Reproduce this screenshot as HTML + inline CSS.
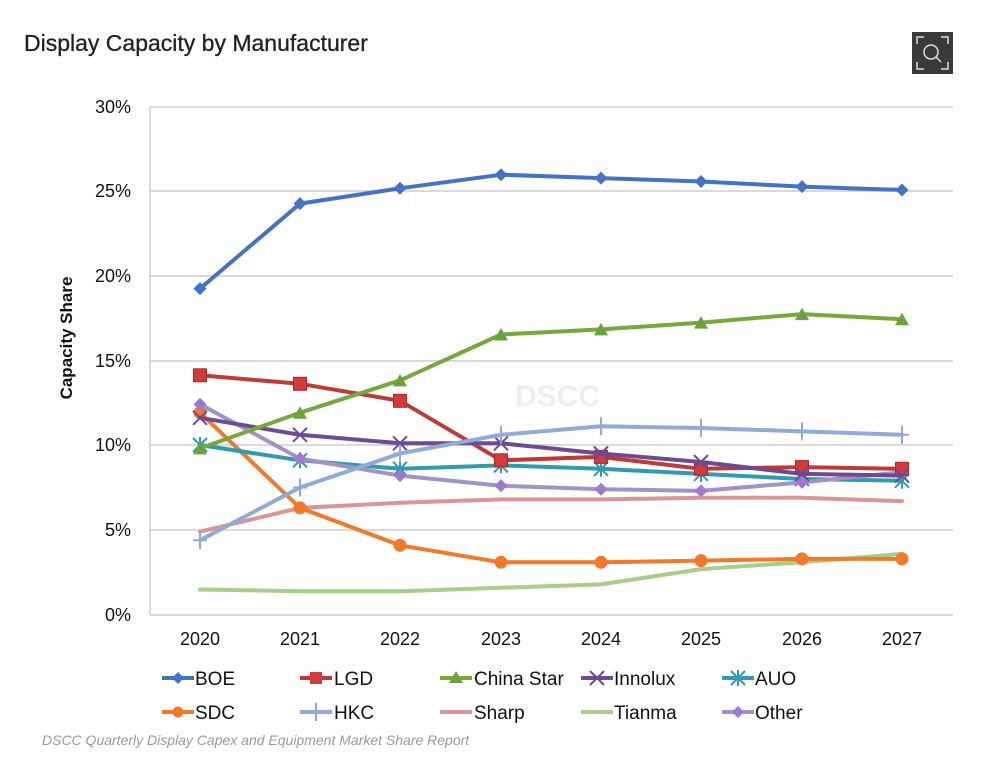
<!DOCTYPE html>
<html><head><meta charset="utf-8"><style>
body{margin:0;background:#fff;width:987px;height:762px;overflow:hidden;font-family:"Liberation Sans",sans-serif}
</style></head><body>
<svg width="987" height="762" xmlns="http://www.w3.org/2000/svg" font-family="Liberation Sans, sans-serif">
<defs>
<marker id="dia" markerUnits="userSpaceOnUse" markerWidth="16" markerHeight="16" refX="8" refY="8"><path d="M8 1.5L14.5 8L8 14.5L1.5 8Z" fill="#4472c4"/></marker>
<marker id="sq" markerUnits="userSpaceOnUse" markerWidth="16" markerHeight="16" refX="8" refY="8"><rect x="1.5" y="1.5" width="13" height="13" fill="#d43a3a" stroke="#a52a2a"/></marker>
<marker id="tri" markerUnits="userSpaceOnUse" markerWidth="16" markerHeight="16" refX="8" refY="8"><path d="M8 1.5L15 14L1 14Z" fill="#6aa33a"/></marker>
<marker id="x" markerUnits="userSpaceOnUse" markerWidth="18" markerHeight="18" refX="9" refY="9"><path d="M2 2L16 16M16 2L2 16" stroke="#6e4a93" stroke-width="2"/></marker>
<marker id="ast" markerUnits="userSpaceOnUse" markerWidth="18" markerHeight="18" refX="9" refY="9"><path d="M2 2L16 16M16 2L2 16M9 1V17" stroke="#2e9bb0" stroke-width="2"/></marker>
<marker id="cir" markerUnits="userSpaceOnUse" markerWidth="16" markerHeight="16" refX="8" refY="8"><circle cx="8" cy="8" r="6.5" fill="#f07a2a"/></marker>
<marker id="plus" markerUnits="userSpaceOnUse" markerWidth="20" markerHeight="20" refX="10" refY="10"><path d="M10 1V19M3 10H17" stroke="#8eabd9" stroke-width="2"/></marker>
<marker id="dia2" markerUnits="userSpaceOnUse" markerWidth="16" markerHeight="16" refX="8" refY="8"><path d="M8 1.5L14.5 8L8 14.5L1.5 8Z" fill="#9b7ad0"/></marker>
</defs>
<text x="24" y="51" font-size="23" fill="#222" stroke="#222" stroke-width="0.3">Display Capacity by Manufacturer</text>
<rect x="912" y="32" width="41" height="42" fill="#3a3a3a"/>
<path d="M917 44V37H924M941 37H948V44M917 62V69H924M941 69H948V62" stroke="#ddd" stroke-width="1.5" fill="none"/>
<circle cx="931" cy="52" r="7" stroke="#ddd" stroke-width="1.5" fill="none"/><path d="M936 57L941 62" stroke="#ddd" stroke-width="1.5"/>
<g stroke="#c4c4c4" stroke-width="1.2">
<line x1="150" y1="107" x2="953" y2="107"/><line x1="150" y1="191" x2="953" y2="191"/><line x1="150" y1="276" x2="953" y2="276"/><line x1="150" y1="361" x2="953" y2="361"/><line x1="150" y1="445" x2="953" y2="445"/><line x1="150" y1="530" x2="953" y2="530"/><line x1="150" y1="615" x2="953" y2="615"/><line x1="150" y1="107" x2="150" y2="615"/>
</g>
<g font-size="18" fill="#111" text-anchor="end">
<text x="131" y="113">30%</text><text x="131" y="197">25%</text><text x="131" y="282">20%</text><text x="131" y="367">15%</text><text x="131" y="451">10%</text><text x="131" y="536">5%</text><text x="131" y="621">0%</text>
</g>
<g font-size="18" fill="#111" text-anchor="middle">
<text x="200" y="645">2020</text><text x="300" y="645">2021</text><text x="400" y="645">2022</text><text x="501" y="645">2023</text><text x="601" y="645">2024</text><text x="701" y="645">2025</text><text x="802" y="645">2026</text><text x="902" y="645">2027</text>
</g>
<text transform="translate(72 338) rotate(-90)" font-size="17" font-weight="bold" text-anchor="middle" fill="#111">Capacity Share</text>
<text x="515" y="406" font-size="30" font-weight="bold" fill="#eee">DSCC</text>
<g fill="none" stroke-width="4" stroke-linejoin="round" stroke-linecap="round">
<polyline stroke="#a9cd8a" points="200,589.5 300,591.2 400,591.2 501,587.8 601,584.4 701,569.1 802,562.3 902,553.8"/>
<polyline stroke="#d99694" points="200,531.7 300,507.9 400,502.8 501,499.4 601,499.4 701,497.7 802,497.7 902,501.1"/>
<polyline stroke="#f07a2a" marker-start="url(#cir)" marker-mid="url(#cir)" marker-end="url(#cir)" points="200,412.7 300,507.9 400,545.3 501,562.3 601,562.3 701,560.6 802,558.9 902,558.9"/>
<polyline stroke="#2e9bb0" marker-start="url(#ast)" marker-mid="url(#ast)" marker-end="url(#ast)" points="200,445 300,460.3 400,468.8 501,465.4 601,468.8 701,473.9 802,479 902,480.7"/>
<polyline stroke="#a391c7" marker-start="url(#dia2)" marker-mid="url(#dia2)" marker-end="url(#dia2)" points="200,404.2 300,458.6 400,475.6 501,485.8 601,489.2 701,490.9 802,482.4 902,472.2"/>
<polyline stroke="#be3a36" marker-start="url(#sq)" marker-mid="url(#sq)" marker-end="url(#sq)" points="200,375.3 300,383.8 400,400.8 501,460.3 601,456.9 701,468.8 802,467.1 902,468.8"/>
<polyline stroke="#6e4a93" marker-start="url(#x)" marker-mid="url(#x)" marker-end="url(#x)" points="200,417.8 300,434.8 400,443.3 501,443.3 601,453.5 701,462 802,473.9 902,475.6"/>
<polyline stroke="#8eabd9" marker-start="url(#plus)" marker-mid="url(#plus)" marker-end="url(#plus)" points="200,540.2 300,487.5 400,453.5 501,434.8 601,426.3 701,428 802,431.4 902,434.8"/>
<polyline stroke="#77a83c" marker-start="url(#tri)" marker-mid="url(#tri)" marker-end="url(#tri)" points="200,448.4 300,412.7 400,380.4 501,334.5 601,329.4 701,322.6 802,314.1 902,319.2"/>
<polyline stroke="#4472c4" marker-start="url(#dia)" marker-mid="url(#dia)" marker-end="url(#dia)" points="200,288.6 300,203.6 400,188.3 501,174.7 601,178.1 701,181.5 802,186.6 902,190"/>
</g>
<g stroke-width="4" fill="none">
<line x1="162" y1="678" x2="194" y2="678" stroke="#4472c4"/>
<line x1="300" y1="678" x2="332" y2="678" stroke="#be3a36"/><rect x="310" y="672" width="12" height="12" fill="#d43a3a" stroke="none"/>
<line x1="440" y1="678" x2="472" y2="678" stroke="#77a83c"/><path d="M456 671L463 683L449 683Z" fill="#6aa33a" stroke="none"/>
<line x1="581" y1="678" x2="613" y2="678" stroke="#6e4a93"/><path d="M590 671L604 685M604 671L590 685" stroke="#6e4a93" stroke-width="2"/>
<line x1="722" y1="678" x2="754" y2="678" stroke="#2e9bb0"/><path d="M731 671L745 685M745 671L731 685M738 670V686" stroke="#2e9bb0" stroke-width="2"/>
<line x1="162" y1="712" x2="194" y2="712" stroke="#f07a2a"/><circle cx="178" cy="712" r="5.5" fill="#f07a2a" stroke="none"/>
<line x1="300" y1="712" x2="332" y2="712" stroke="#8eabd9"/><path d="M316 703V721" stroke="#8eabd9" stroke-width="2"/>
<line x1="440" y1="712" x2="472" y2="712" stroke="#d99694"/>
<line x1="581" y1="712" x2="613" y2="712" stroke="#a9cd8a"/>
<line x1="722" y1="712" x2="754" y2="712" stroke="#a391c7"/><path d="M738 706L744 712L738 718L732 712Z" fill="#9b7ad0" stroke="none"/>
</g>
<path d="M178 672L184 678L178 684L172 678Z" fill="#4472c4"/>
<g font-size="19" fill="#111">
<text x="195" y="685">BOE</text><text x="334" y="685">LGD</text><text x="474" y="685">China Star</text><text x="614" y="685">Innolux</text><text x="755" y="685">AUO</text>
<text x="195" y="719">SDC</text><text x="334" y="719">HKC</text><text x="474" y="719">Sharp</text><text x="614" y="719">Tianma</text><text x="755" y="719">Other</text>
</g>
<text x="42" y="745" font-size="14" font-style="italic" fill="#999">DSCC Quarterly Display Capex and Equipment Market Share Report</text>
</svg>
</body></html>
